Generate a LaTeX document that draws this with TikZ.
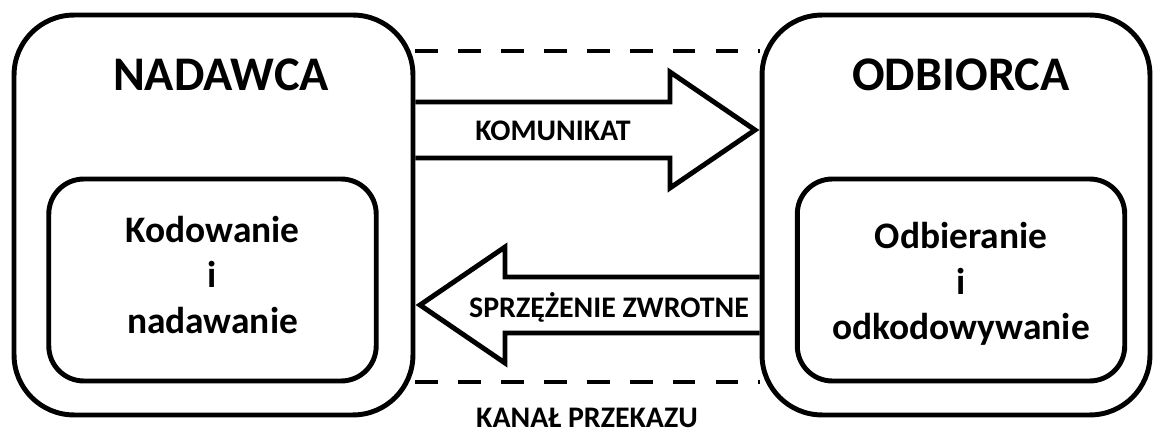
\documentclass[tikz,border=0pt]{standalone}
\usepackage{fontspec}
\setmainfont{Carlito}
\usepackage{tikz}

\tikzset{
  outerbox/.style={draw, line width=2.8pt, rounded corners=1.2cm, minimum height=8cm},
  innerbox/.style={draw, line width=2.8pt, rounded corners=0.7cm, minimum width=6.55cm, minimum height=4.04cm},
  title/.style={font=\bfseries\fontsize{27.5}{32}\selectfont},
  inside/.style={align=center, font=\bfseries\fontsize{21.3}{26}\selectfont},
  label/.style={font=\bfseries\fontsize{17}{20}\selectfont},
  blockarrow/.style={line width=2.8pt, miter limit=10},
  channel/.style={line width=2.8pt, dash pattern=on 13pt off 11.4pt}
}

\begin{document}
\begin{tikzpicture}[x=0.02cm, y=-0.02cm]
    \useasboundingbox (0,0) rectangle (1156,435);
    \node[outerbox, minimum width=7.98cm] (nad) at (213.5, 215) {};
    \node[outerbox, minimum width=7.76cm] (odb) at (956, 215) {};
    \node[innerbox] (kod) at (212.5, 280) {};
    \node[innerbox] (odk) at (961, 280) {};
    \node[title] (nadt) at (221, 75) {NADAWCA};
    \node[title] (odbt) at (961, 75) {ODBIORCA};
    \node[inside] (kodt) at (212.5, 275) {Kodowanie\\i\\nadawanie};
    \node[inside] (odkt) at (961, 284) {Odbieranie\\i\\odkodowywanie};
    % kanal
    \draw[channel] (nad.east |- 0,51) -- (odb.west |- 0,51);
    \draw[channel] (nad.east |- 0,382) -- (odb.west |- 0,382);
    \node[label] (kanal) at (587, 418) {KANAŁ PRZEKAZU};
    % komunikat
    \draw[blockarrow] (nad.east |- 0,102) -- (670,102) -- (670,72) -- (755,130)
        -- (670,188) -- (670,158) -- (nad.east |- 0,158);
    \node[label] (kom) at (553, 131) {KOMUNIKAT};
    % sprzezenie
    \draw[blockarrow] (odb.west |- 0,277) -- (505,277) -- (505,247) -- (420,305)
        -- (505,363) -- (505,333) -- (odb.west |- 0,333);
    \node[label] (spr) at (609, 307) {SPRZĘŻENIE ZWROTNE};
\end{tikzpicture}
\end{document}
